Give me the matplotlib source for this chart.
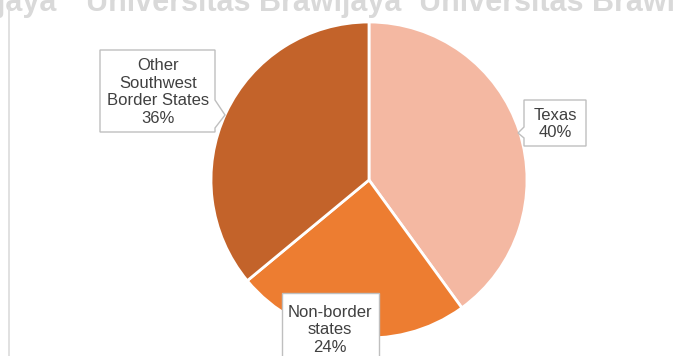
import matplotlib.pyplot as plt
from matplotlib.patches import Polygon

# Data
labels = ['Texas', 'Non-border\nstates', 'Other\nSouthwest\nBorder States']
shares = [40, 24, 36]
colors = ['#F4B8A2', '#ED7D31', '#C3632A']

W, H = 674, 356
fig = plt.figure(figsize=(W / 100, H / 100), dpi=100)
ax = fig.add_axes([0, 0, 1, 1])

# pie (y axis is flipped below, so counterclock=True draws clockwise on screen)
cx, cy, r = 369, 180, 158
ax.pie(shares, colors=colors, startangle=-90, counterclock=True,
       center=(cx, cy), radius=r, frame=True,
       wedgeprops=dict(edgecolor='white', linewidth=2))
ax.set_xlim(0, W)
ax.set_ylim(H, 0)
ax.set_aspect('equal')
ax.axis('off')

# watermark
wm = dict(fontsize=22, color='#d9d9d9', weight='bold', family='Liberation Sans',
          va='baseline', zorder=0)
ax.text(56, 11, 'Brawijaya', ha='right', **wm)
ax.text(86, 11, 'Universitas Brawijaya', ha='left', **wm)
ax.text(419, 11, 'Universitas Brawijaya', ha='left', **wm)
ax.plot([9, 9], [8, H], color='#dedede', lw=1.3, zorder=0)

# callout boxes
edge = dict(facecolor='white', edgecolor='#bfbfbf', lw=1.0, zorder=5)
ax.add_patch(Polygon([[100, 50], [215, 50], [215, 100], [225, 115], [215, 128],
                      [215, 132], [100, 132]], closed=True, **edge))
ax.add_patch(Polygon([[524, 100], [586, 100], [586, 146], [524, 146], [524, 138],
                      [518, 133], [524, 127]], closed=True, **edge))
ax.add_patch(Polygon([[282, 293], [379, 293], [379, 372], [282, 372]],
                     closed=True, **edge))

txt = dict(fontsize=12, family='Liberation Sans', color='#404040',
           ha='center', va='center', linespacing=1.22, zorder=6)
ax.text(158, 92, f'{labels[2]}\n{shares[2]}%', **txt)
ax.text(555, 124, f'{labels[0]}\n{shares[0]}%', **txt)
ax.text(330, 330, f'{labels[1]}\n{shares[1]}%', **txt)

fig.savefig('out.png', dpi=100)
